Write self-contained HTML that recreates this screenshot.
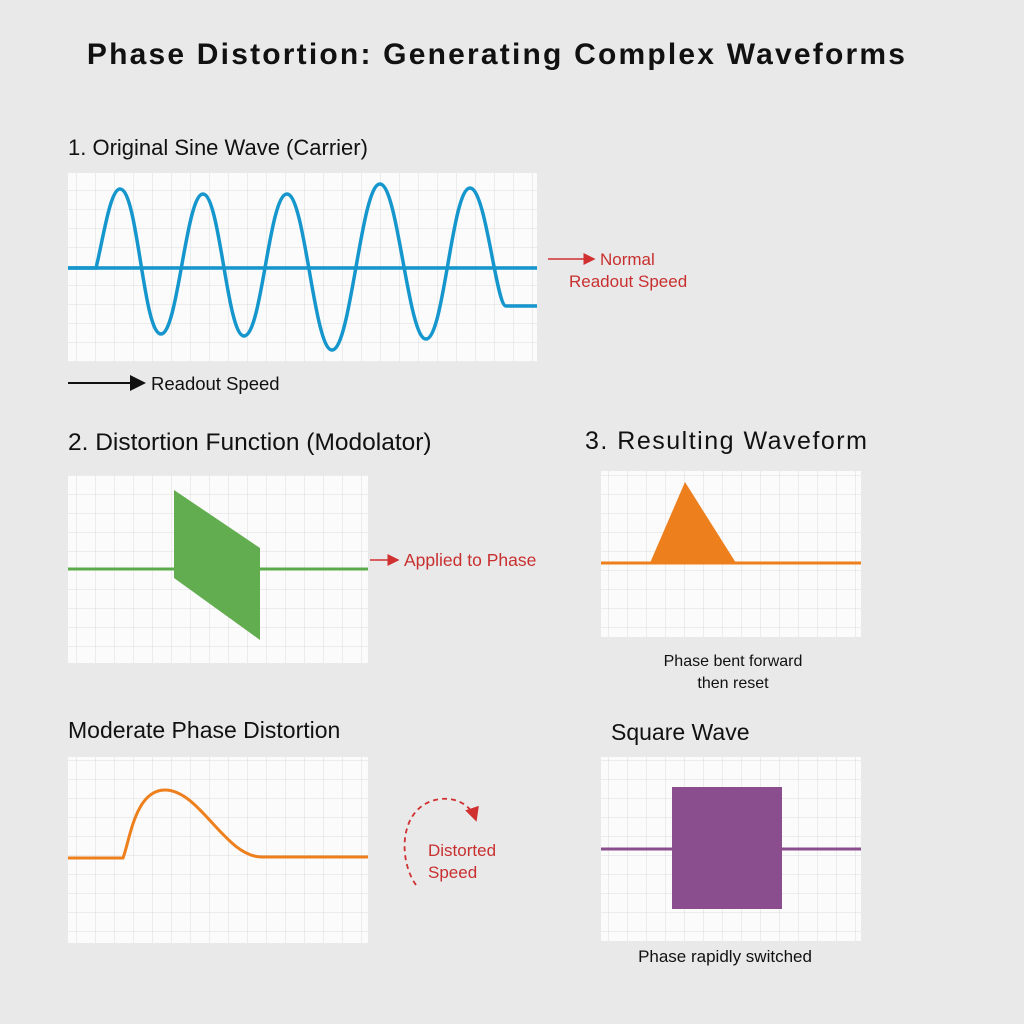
<!DOCTYPE html>
<html><head><meta charset="utf-8"><style>
body{margin:0;width:1024px;height:1024px;background:#e9e9e9;font-family:"Liberation Sans",sans-serif;overflow:hidden}
svg{position:absolute;left:0;top:0}
</style></head><body>
<svg width="1024" height="1024" xmlns="http://www.w3.org/2000/svg">
<defs>
<pattern id="g" width="19" height="19" patternUnits="userSpaceOnUse"><rect width="19" height="19" fill="#fbfbfb"/><path d="M0 0H19M0 0V19" stroke="#dcdcdc" stroke-width="1"/></pattern>
<marker id="ar" markerWidth="8" markerHeight="8" refX="7" refY="4" orient="auto"><path d="M0,0L8,4L0,8z" fill="#d03030"/></marker>
<marker id="ak" markerWidth="8" markerHeight="8" refX="7" refY="4" orient="auto"><path d="M0,0L8,4L0,8z" fill="#111"/></marker>
</defs>
<text x="497" y="64" text-anchor="middle" font-size="30" font-weight="bold" fill="#111" letter-spacing="2.2">Phase Distortion: Generating Complex Waveforms</text>
<text x="68" y="155" font-size="22" fill="#111">1. Original Sine Wave (Carrier)</text>
<rect x="68" y="173" width="469" height="189" fill="url(#g)"/>
<line x1="68" y1="268" x2="537" y2="268" stroke="#1596cc" stroke-width="3.5"/>
<path d="M68,268H96C103,240 110,189 120,189C138,189 143,334 161,334C178,334 186,194 203,194C220,194 227,336 244,336C262,336 269,194 287,194C305,194 314,350 332,350C351,350 361,184 380,184C398,184 408,339 426,339C444,339 452,188 470,188C486,188 496,306 506,306H537" fill="none" stroke="#1596cc" stroke-width="3.5"/>
<line x1="548" y1="259" x2="594" y2="259" stroke="#d03030" stroke-width="1.5" marker-end="url(#ar)"/>
<text x="600" y="265" font-size="17" fill="#c83030">Normal</text>
<text x="569" y="287" font-size="17" fill="#c83030">Readout Speed</text>
<line x1="68" y1="383" x2="144" y2="383" stroke="#111" stroke-width="2" marker-end="url(#ak)"/>
<text x="151" y="390" font-size="18.5" fill="#111">Readout Speed</text>

<text x="68" y="450" font-size="24.5" fill="#111">2. Distortion Function (Modolator)</text>
<rect x="68" y="475" width="300" height="188" fill="url(#g)"/>
<line x1="68" y1="569" x2="368" y2="569" stroke="#5aaa48" stroke-width="3"/>
<polygon points="174,490 260,548 260,640 174,578" fill="#62ad4f"/>
<line x1="370" y1="560" x2="398" y2="560" stroke="#d03030" stroke-width="1.5" marker-end="url(#ar)"/>
<text x="404" y="566" font-size="17.5" fill="#c83030">Applied to Phase</text>

<text x="585" y="449" font-size="25" fill="#111" letter-spacing="1.5">3. Resulting Waveform</text>
<rect x="601" y="471" width="260" height="166" fill="url(#g)"/>
<line x1="601" y1="563" x2="861" y2="563" stroke="#ee7f1d" stroke-width="3"/>
<polygon points="650,563 685,482 736,563" fill="#ee7f1d"/>
<text x="733" y="666" text-anchor="middle" font-size="16" fill="#111">Phase bent forward</text>
<text x="733" y="688" text-anchor="middle" font-size="16" fill="#111">then reset</text>

<text x="68" y="738" font-size="23" fill="#111">Moderate Phase Distortion</text>
<rect x="68" y="757" width="300" height="186" fill="url(#g)"/>
<path d="M68,858H123C130,840 135,790 165,790C200,790 225,857 262,857H368" fill="none" stroke="#ee7f1d" stroke-width="3"/>
<path d="M416,885C398,860 398,805 440,799C460,797 472,808 476,820" fill="none" stroke="#d03030" stroke-width="1.8" stroke-dasharray="5,4" marker-end="url(#ar)"/>
<text x="428" y="856" font-size="17" fill="#c83030">Distorted</text>
<text x="428" y="878" font-size="17" fill="#c83030">Speed</text>

<text x="611" y="740" font-size="23" fill="#111">Square Wave</text>
<rect x="601" y="757" width="260" height="184" fill="url(#g)"/>
<line x1="601" y1="849" x2="861" y2="849" stroke="#8a4e8e" stroke-width="3"/>
<rect x="672" y="787" width="110" height="122" fill="#8a4e8e"/>
<text x="725" y="962" text-anchor="middle" font-size="17" fill="#111">Phase rapidly switched</text>
</svg>
</body></html>
